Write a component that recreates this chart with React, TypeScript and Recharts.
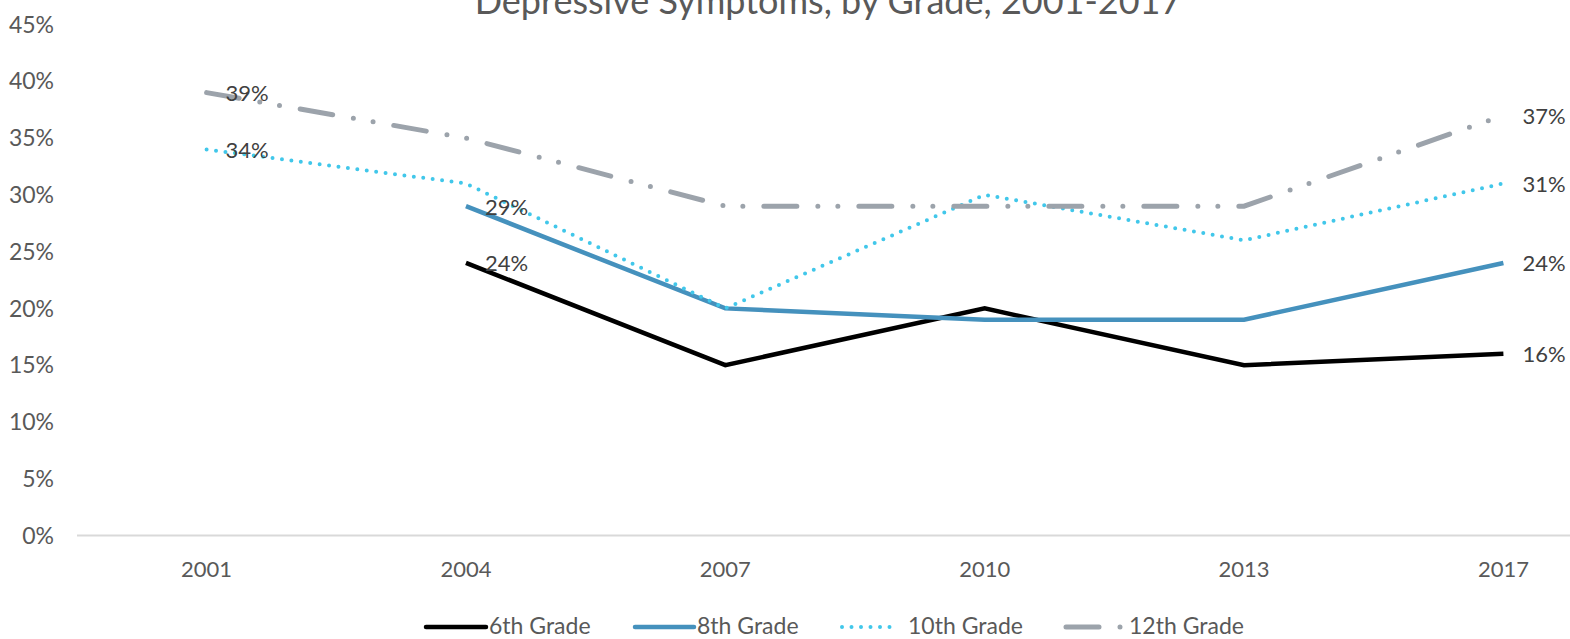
import React from "react";
import { LineChart, Line, XAxis, YAxis } from "recharts";

const years = ["2001", "2004", "2007", "2010", "2013", "2017"];
const grade6 = [null, 24, 15, 20, 15, 16];
const grade8 = [null, 29, 20, 19, 19, 24];
const grade10 = [34, 31, 20, 30, 26, 31];
const grade12 = [39, 35, 29, 29, 29, 37];
const yTicks = [0, 5, 10, 15, 20, 25, 30, 35, 40, 45];

const labelIdx6 = [1, 5];
const labelIdx8 = [1, 5];
const labelIdx10 = [0, 5];
const labelIdx12 = [0, 5];

const data = years.map((y, i) => ({
  year: y,
  g6: grade6[i],
  g8: grade8[i],
  g10: grade10[i],
  g12: grade12[i],
}));

const FONT = "Lato, 'Open Sans', sans-serif";
const C6 = "#000000";
const C8 = "#4591bd";
const C10 = "#41c7ea";
const C12 = "#9ca3ab";
const TXT = "#595959";
const LBL = "#404040";

const makeDot = (indices: number[], key: string) => (props: any) => {
  const { cx, cy, index, value } = props;
  if (cy == null || cx == null || !indices.includes(index)) {
    return <g key={`${key}-${index}`} />;
  }
  return (
    <text
      key={`${key}-${index}`}
      x={cx + 19}
      y={cy}
      dominantBaseline="central"
      fontFamily={FONT}
      fontSize={22}
      fill={LBL}
    >
      {`${value}%`}
    </text>
  );
};

const legendItems = [
  { name: "6th Grade", color: C6, dash: undefined as string | undefined, width: 4.5, iconLeft: 426, iconW: 60, textLeft: 489 },
  { name: "8th Grade", color: C8, dash: undefined, width: 4.5, iconLeft: 635, iconW: 59, textLeft: 697 },
  { name: "10th Grade", color: C10, dash: "0 9.5", width: 4, iconLeft: 842, iconW: 56, textLeft: 908 },
  { name: "12th Grade", color: C12, dash: "33 21 0 20 0 21", width: 5, iconLeft: 1066, iconW: 56, textLeft: 1129 },
];

export default function App() {
  return (
    <>
      <style>{`html,body{margin:0;padding:0;overflow:hidden;background:#fff;}`}</style>
      <div
        style={{
          position: "relative",
          width: 1570,
          height: 639,
          overflow: "hidden",
          background: "#fff",
          fontFamily: FONT,
        }}
      >
        <div style={{ position: "absolute", left: 0, top: 0 }}>
          <LineChart
            width={1653}
            height={639}
            data={data}
            margin={{ top: 24.5, right: 20, bottom: 63.5, left: 0 }}
          >
            <XAxis
              dataKey="year"
              padding={{ left: 129.6, right: 129.6 }}
              axisLine={{ stroke: "#d9d9d9", strokeWidth: 2 }}
              tickLine={false}
              tickSize={0}
              tickMargin={26}
              height={40}
              tick={{ fontSize: 22, fill: TXT, fontFamily: FONT }}
              interval={0}
            />
            <YAxis
              domain={[0, 45]}
              ticks={yTicks}
              tickFormatter={(v: number) => `${v}%`}
              axisLine={false}
              tickLine={false}
              tickSize={0}
              tickMargin={23}
              width={77}
              tick={{ fontSize: 23, fill: TXT, fontFamily: FONT }}
              interval={0}
            />
            <Line
              type="linear"
              dataKey="g6"
              stroke={C6}
              strokeWidth={4.5}
              dot={makeDot(labelIdx6, "g6")}
              activeDot={false}
              isAnimationActive={false}
            />
            <Line
              type="linear"
              dataKey="g8"
              stroke={C8}
              strokeWidth={4.5}
              dot={makeDot(labelIdx8, "g8")}
              activeDot={false}
              isAnimationActive={false}
            />
            <Line
              type="linear"
              dataKey="g10"
              stroke={C10}
              strokeWidth={4}
              strokeDasharray="0 9.5"
              strokeLinecap="round"
              dot={makeDot(labelIdx10, "g10")}
              activeDot={false}
              isAnimationActive={false}
            />
            <Line
              type="linear"
              dataKey="g12"
              stroke={C12}
              strokeWidth={5}
              strokeDasharray="33 21 0 20 0 21"
              strokeLinecap="round"
              dot={makeDot(labelIdx12, "g12")}
              activeDot={false}
              isAnimationActive={false}
            />
          </LineChart>
        </div>
        <svg
          width={1570}
          height={40}
          style={{ position: "absolute", left: 0, top: 0, overflow: "visible" }}
        >
          <text x={828} y={14} textAnchor="middle" fontFamily={FONT} fontSize={36} fill={TXT}>
            Depressive Symptoms, by Grade, 2001-2017
          </text>
        </svg>
        {legendItems.map((it) => (
          <React.Fragment key={it.name}>
            <svg
              width={it.iconW + 6}
              height={12}
              style={{ position: "absolute", left: it.iconLeft - 3, top: 621 }}
            >
              <line
                x1={3}
                y1={6}
                x2={3 + it.iconW}
                y2={6}
                stroke={it.color}
                strokeWidth={it.width}
                strokeDasharray={it.dash}
                strokeLinecap="round"
              />
            </svg>
            <div
              style={{
                position: "absolute",
                left: it.textLeft,
                top: 614,
                fontSize: 23,
                lineHeight: "22px",
                color: TXT,
                whiteSpace: "nowrap",
              }}
            >
              {it.name}
            </div>
          </React.Fragment>
        ))}
      </div>
    </>
  );
}
